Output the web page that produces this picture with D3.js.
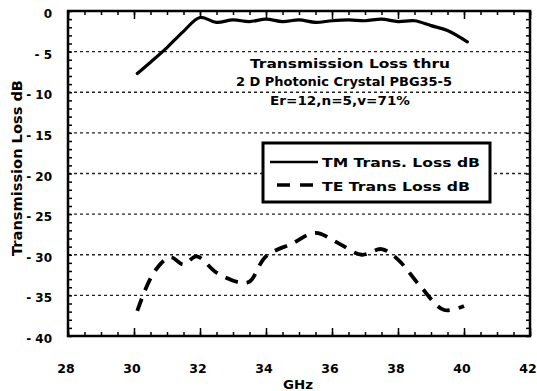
<!DOCTYPE html>
<html><head><meta charset="utf-8">
<script src="https://cdn.jsdelivr.net/npm/d3@7"></script>
<style>body{margin:0;background:#fff}svg{display:block}text{font-family:"DejaVu Sans",sans-serif;font-weight:bold;fill:#000}</style>
</head><body>
<script>
const tmGHz = [30.1,30.5,31.0,31.5,32.0,32.5,33.0,33.5,34.0,34.5,35.0,35.5,36.0,36.5,37.0,37.5,38.0,38.5,39.0,39.5,40.1];
const tmLoss = [-7.7,-6.3,-4.5,-2.5,-0.8,-1.4,-1.1,-1.3,-1.0,-1.3,-1.1,-1.4,-1.2,-1.1,-1.2,-1.0,-1.3,-1.2,-1.8,-2.4,-3.8];
const teGHz = [30.1,30.6,31.1,31.5,31.9,32.5,33.2,33.5,34.0,34.8,35.5,36.2,36.9,37.5,38.0,38.7,39.4,40.0];
const teLoss = [-36.9,-32.2,-30.3,-31.2,-30.2,-32.2,-33.4,-33.3,-30.2,-28.6,-27.3,-28.6,-30.0,-29.3,-30.6,-34.0,-36.8,-36.3];
const xTicks = [28,30,32,34,36,38,40,42];
const yTicks = [0,-5,-10,-15,-20,-25,-30,-35,-40];
const titleLines = ["Transmission Loss thru","2 D Photonic Crystal PBG35-5","Er=12,n=5,v=71%"];
const seriesNames = ["TM Trans. Loss dB","TE Trans Loss dB"];

const W=537,H=391;
const svg=d3.select("body").append("svg").attr("width",W).attr("height",H);
const L=68,R=530,T=11,B=336;
const x=d3.scaleLinear().domain([28,42]).range([L,R]);
const y=d3.scaleLinear().domain([-40,0]).range([B,T]);

// grid
svg.append("g").selectAll("line").data(yTicks.filter(v=>v>-40&&v<0)).join("line")
  .attr("x1",L).attr("x2",R).attr("y1",d=>y(d)).attr("y2",d=>y(d))
  .attr("stroke","#222").attr("stroke-width",1.3).attr("stroke-dasharray","3,3");

// axes
const minorX=d3.range(28,42.01,0.5);
const minorY=d3.range(-40,0.01,1);
function ax(gen,tr,vals,size){
  svg.append("g").attr("transform",tr).call(gen.tickValues(vals).tickSize(size).tickFormat("")).select(".domain").remove();
}
ax(d3.axisBottom(x),`translate(0,${B})`,minorX,-4);
ax(d3.axisBottom(x),`translate(0,${B})`,xTicks,-8);
ax(d3.axisTop(x),`translate(0,${T})`,minorX,-4);
ax(d3.axisTop(x),`translate(0,${T})`,xTicks,-8);
ax(d3.axisLeft(y),`translate(${L},0)`,minorY,-4);
ax(d3.axisRight(y),`translate(${R},0)`,minorY,-4);
svg.selectAll(".tick line").attr("stroke","#000").attr("stroke-width",1.5);

// frame
svg.append("rect").attr("x",L).attr("y",T).attr("width",R-L).attr("height",B-T)
  .attr("fill","none").attr("stroke","#000").attr("stroke-width",2.5);

// tick labels
svg.append("g").selectAll("text").data(yTicks).join("text")
  .attr("x",52).attr("y",d=>y(d)+7).attr("text-anchor","end").attr("font-size",12)
  .text(d=>d===0?"0":"- "+Math.abs(d));
svg.append("g").selectAll("text").data(xTicks).join("text")
  .attr("x",d=>x(d)-2).attr("y",373).attr("text-anchor","middle").attr("font-size",12.5)
  .text(d=>d);

// axis titles
svg.append("text").attr("x",283).attr("y",389).attr("font-size",11.5)
  .attr("textLength",30).attr("lengthAdjust","spacingAndGlyphs").text("GHz");
svg.append("text").attr("transform","translate(22,168) rotate(-90)").attr("text-anchor","middle")
  .attr("font-size",14.5).attr("textLength",176).attr("lengthAdjust","spacingAndGlyphs").text("Transmission Loss dB");

// lines
const line=d3.line().x(d=>x(d[0])).y(d=>y(d[1])).curve(d3.curveCatmullRom);
svg.append("path").datum(d3.zip(tmGHz,tmLoss)).attr("d",line)
  .attr("fill","none").attr("stroke","#000").attr("stroke-width",3.2).attr("stroke-linecap","round");
svg.append("path").datum(d3.zip(teGHz,teLoss)).attr("d",line)
  .attr("fill","none").attr("stroke","#000").attr("stroke-width",3.8).attr("stroke-dasharray","13,9");

// title
const tInfo=[{x:250,w:200,y:68},{x:236,w:216,y:86},{x:270,w:140,y:105}];
svg.append("g").selectAll("text").data(titleLines).join("text")
  .attr("x",(d,i)=>tInfo[i].x).attr("y",(d,i)=>tInfo[i].y)
  .attr("font-size",12).attr("textLength",(d,i)=>tInfo[i].w).attr("lengthAdjust","spacingAndGlyphs").text(d=>d);

// legend
svg.append("rect").attr("x",263).attr("y",143).attr("width",227).attr("height",59)
  .attr("fill","#fff").attr("stroke","#000").attr("stroke-width",3);
svg.append("line").attr("x1",270).attr("x2",318).attr("y1",162).attr("y2",162)
  .attr("stroke","#000").attr("stroke-width",2.5);
svg.append("line").attr("x1",277).attr("x2",319).attr("y1",185).attr("y2",185)
  .attr("stroke","#000").attr("stroke-width",3.5).attr("stroke-dasharray","13,10");
const lw=[158,148];
svg.append("g").selectAll("text").data(seriesNames).join("text")
  .attr("x",322).attr("y",(d,i)=>167+i*24).attr("font-size",12)
  .attr("textLength",(d,i)=>lw[i]).attr("lengthAdjust","spacingAndGlyphs").text(d=>d);
</script>
</body></html>
